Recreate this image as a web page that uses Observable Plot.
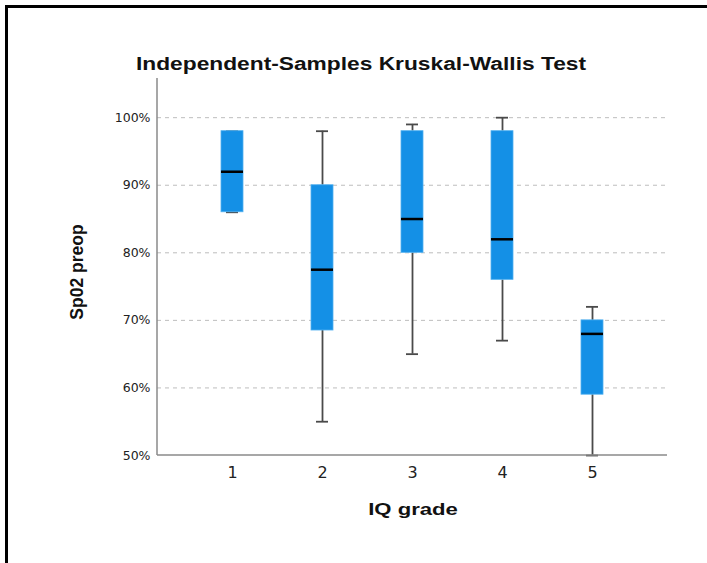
<!DOCTYPE html>
<html><head><meta charset="utf-8">
<script src="https://cdn.jsdelivr.net/npm/d3@7"></script>
<script src="https://cdn.jsdelivr.net/npm/@observablehq/plot@0.6"></script>
<style>
body{margin:0;background:#fff;}
#wrap{position:relative;width:707px;height:563px;overflow:hidden;font-family:"Liberation Sans",Arial,sans-serif;background:#fff;}
#frame{position:absolute;left:5px;top:5px;width:720px;height:580px;border-top:3px solid #000;border-left:3px solid #000;pointer-events:none;}
#title{position:absolute;left:361px;top:64px;transform:translate(-50%,-50%) scaleX(1.3);font-size:17.5px;font-weight:bold;color:#111;white-space:nowrap;}
#ylab{position:absolute;left:77px;top:272px;transform:translate(-50%,-50%) rotate(-90deg);font-size:17.5px;font-weight:bold;color:#111;white-space:nowrap;}
#xlab{position:absolute;left:413px;top:510px;transform:translate(-50%,-50%) scaleX(1.3);font-size:17px;font-weight:bold;color:#111;white-space:nowrap;}
#chart{position:absolute;left:0;top:0;}
</style></head>
<body>
<div id="wrap">
  <div id="chart"></div>
  <div id="title">Independent-Samples Kruskal-Wallis Test</div>
  <div id="ylab">Sp02 preop</div>
  <div id="xlab">IQ grade</div>
  <div id="frame"></div>
</div>
<script>
const grades = ["1", "2", "3", "4", "5"];
const mins = [86, 55, 65, 67, 50];
const q1s = [86, 68.5, 80, 76, 59];
const medians = [92, 77.5, 85, 82, 68];
const q3s = [98, 90, 98, 98, 70];
const maxs = [98, 98, 99, 100, 72];
const yTicks = [50, 60, 70, 80, 90, 100];

const data = grades.map((g, i) => ({grade: g, min: mins[i], q1: q1s[i], median: medians[i], q3: q3s[i], max: maxs[i]}));

const chart = Plot.plot({
  width: 707,
  height: 563,
  marginTop: 78,
  marginBottom: 108,
  marginLeft: 157,
  marginRight: 40,
  style: {background: "transparent", fontFamily: "DejaVu Sans, sans-serif"},
  x: {type: "band", domain: grades, paddingInner: 0.758, paddingOuter: 0.683, label: null},
  y: {domain: [50, 105.8], label: null},
  marks: [
    Plot.gridY(yTicks.slice(1), {stroke: "#bdbdbd", strokeOpacity: 1, strokeDasharray: "4,4", strokeWidth: 1}),
    Plot.ruleX(data, {x: "grade", y1: "min", y2: "q1", stroke: "#4a4a4a", strokeWidth: 1.8}),
    Plot.ruleX(data, {x: "grade", y1: "q3", y2: "max", stroke: "#4a4a4a", strokeWidth: 1.8}),
    Plot.tickY(data, {x: "grade", y: "min", stroke: "#4a4a4a", strokeWidth: 1.8, insetLeft: 5, insetRight: 5}),
    Plot.tickY(data, {x: "grade", y: "max", stroke: "#4a4a4a", strokeWidth: 1.8, insetLeft: 5, insetRight: 5}),
    Plot.barY(data, {x: "grade", y1: "q1", y2: "q3", fill: "#1490e6", stroke: "#4fb0f0", strokeWidth: 0.8, inset: 0}),
    Plot.tickY(data, {x: "grade", y: "median", stroke: "#000", strokeWidth: 2.5}),
    Plot.axisY({ticks: yTicks, tickFormat: d => d + "%", tickSize: 0, tickPadding: 7, color: "#222", fontSize: 12.5, fontFamily: "DejaVu Sans"}),
    Plot.axisX({tickSize: 0, tickPadding: 11, color: "#222", fontSize: 16, fontFamily: "DejaVu Sans"})
  ]
});

// axis lines drawn from the chart's own scales
const xr = chart.scale("x").range;
const yr = chart.scale("y").range;
const svg = d3.select(chart);
svg.append("line")
  .attr("x1", xr[0]).attr("x2", xr[0]).attr("y1", yr[0]).attr("y2", yr[1])
  .attr("stroke", "#8a8a8a").attr("stroke-width", 1.5);
svg.append("line")
  .attr("x1", xr[0]).attr("x2", xr[1]).attr("y1", yr[0]).attr("y2", yr[0])
  .attr("stroke", "#8a8a8a").attr("stroke-width", 1.5);

document.getElementById("chart").appendChild(chart);
</script>
</body></html>
